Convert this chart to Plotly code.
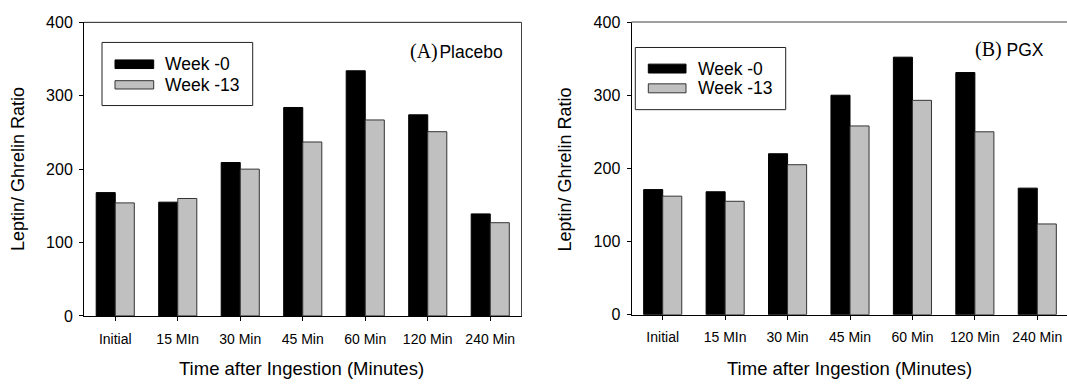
import plotly.graph_objects as go

W, H = 1067, 389

categories = ["Initial", "15 MIn", "30 Min", "45 Min", "60 Min", "120 Min", "240 Min"]
placebo_week0 = [168, 155, 209, 284, 334, 274, 139]
placebo_week13 = [154, 160, 200, 237, 267, 251, 127]
pgx_week0 = [171, 168, 220, 300, 352, 331, 173]
pgx_week13 = [162, 155, 205, 258, 293, 250, 124]
series_names = ["Week -0", "Week -13"]
panel_labels = [("(A)", "Placebo"), ("(B)", "PGX")]
y_ticks = [0, 100, 200, 300, 400]

BLACK = "#000000"
GREY = "#c0c0c0"
FONT = "Liberation Sans, Arial, sans-serif"
SERIF = "Liberation Serif, Times New Roman, serif"


def px(x):
    return x / W


def py(y):
    return 1 - y / H


fig = go.Figure()

panels = [
    dict(xa="x", ya="y", data=(placebo_week0, placebo_week13)),
    dict(xa="x2", ya="y2", data=(pgx_week0, pgx_week13)),
]
for p in panels:
    for vals, col, lc, nm in zip(p["data"], [BLACK, GREY], ["#000000", "#333333"], series_names):
        fig.add_trace(go.Bar(x=categories, y=vals, name=nm, marker=dict(color=col, line=dict(color=lc, width=1)),
                             xaxis=p["xa"], yaxis=p["ya"], showlegend=False))

axis_common = dict(showline=True, linecolor="black", linewidth=1, ticks="outside", ticklen=4,
                   tickcolor="black", showgrid=False, zeroline=False, ticklabelstandoff=6,
                   tickfont=dict(family=FONT, size=14, color="black"))
yaxis_common = dict(showline=True, linecolor="black", linewidth=1, ticks="outside", ticklen=4,
                    tickcolor="black", showgrid=False, zeroline=False, range=[0, 400],
                    tickvals=y_ticks, ticklabelstandoff=3, tickfont=dict(family=FONT, size=16, color="black"))

fig.update_layout(
    width=W, height=H, margin=dict(l=0, r=0, t=0, b=0),
    paper_bgcolor="white", plot_bgcolor="white",
    barmode="group", bargap=0.39, bargroupgap=0,
    xaxis=dict(domain=[px(84), px(521.5)], range=[-0.5, 6.5], anchor="y", **axis_common),
    yaxis=dict(domain=[py(322), py(15)], anchor="x", **yaxis_common),
    xaxis2=dict(domain=[px(631.5), 1.0], range=[-0.5, 6.5 - 1.5 / 62.5], anchor="y2", **axis_common),
    yaxis2=dict(domain=[py(320.7), py(14.7)], anchor="x2", **yaxis_common),
)

shapes = []
annotations = []
# frame lines
shapes.append(dict(type="line", xref="paper", yref="paper", x0=px(84), x1=px(521.5), y0=py(15), y1=py(15),
                   line=dict(color="#222", width=1)))
shapes.append(dict(type="line", xref="paper", yref="paper", x0=px(521.5), x1=px(521.5), y0=py(15), y1=py(322),
                   line=dict(color="#444", width=1)))
shapes.append(dict(type="line", xref="paper", yref="paper", x0=px(631.5), x1=1.0, y0=py(14.7), y1=py(14.7),
                   line=dict(color="#808080", width=1.5)))

# legends (custom boxes with wide swatches)
legends = [
    dict(box=(102, 36, 252.7, 102), sw_x=(115, 153.7), sw_y=[(54.3, 63.3), (76, 84.7)], tx=162.7),
    dict(box=(635.3, 41.3, 785.7, 106.3), sw_x=(648.3, 686), sw_y=[(58.7, 68), (79.3, 88.7)], tx=696),
]
for lg in legends:
    x0, y0, x1, y1 = lg["box"]
    shapes.append(dict(type="rect", xref="paper", yref="paper", x0=px(x0), x1=px(x1), y0=py(y0), y1=py(y1),
                       line=dict(color="#222", width=1), fillcolor="rgba(0,0,0,0)"))
    for (sy0, sy1), col, lc, nm in zip(lg["sw_y"], [BLACK, GREY], ["#000", "#333"], series_names):
        shapes.append(dict(type="rect", xref="paper", yref="paper", x0=px(lg["sw_x"][0]), x1=px(lg["sw_x"][1]),
                           y0=py(sy0), y1=py(sy1), line=dict(color=lc, width=1), fillcolor=col))
        annotations.append(dict(xref="paper", yref="paper", x=px(lg["tx"]), y=py((sy0 + sy1) / 2), text=nm,
                                showarrow=False, xanchor="left", yanchor="middle",
                                font=dict(family=FONT, size=17.5, color="black")))

# panel labels
for (lab, name), (xl, yc), sep in zip(panel_labels, [(407.7, 45), (973.3, 43)],
                                       ["<span style='font-size:6px'> </span>", " "]):
    annotations.append(dict(xref="paper", yref="paper", x=px(xl), y=py(yc),
                            text=f"<span style='font-family:{SERIF};font-size:20px'>{lab}</span>" + sep + name,
                            showarrow=False, xanchor="left", yanchor="middle",
                            font=dict(family=FONT, size=17.5, color="black")))

# axis titles
for xc in [17.5, 565]:
    annotations.append(dict(xref="paper", yref="paper", x=px(xc), y=py(169), text="Leptin/ Ghrelin Ratio",
                            textangle=-90, showarrow=False, xanchor="center", yanchor="middle",
                            font=dict(family=FONT, size=18, color="black")))
for xc in [301, 849]:
    annotations.append(dict(xref="paper", yref="paper", x=px(xc), y=py(377), text="Time after Ingestion (Minutes)",
                            showarrow=False, xanchor="center", yanchor="middle",
                            font=dict(family=FONT, size=18.5, color="black")))

fig.update_layout(shapes=shapes, annotations=annotations)
fig.write_html("out.html")
